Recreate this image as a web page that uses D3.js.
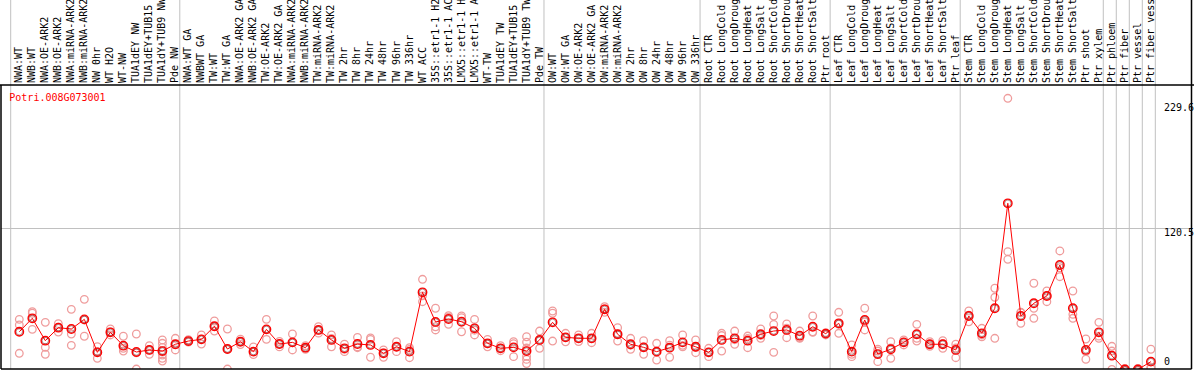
<!DOCTYPE html>
<html>
<head>
<meta charset="utf-8">
<script src="https://cdn.jsdelivr.net/npm/d3@7"></script>
<style>
  html, body { margin: 0; padding: 0; background: #fff; }
  svg { display: block; }
  text { font-family: "DejaVu Sans Mono", "Liberation Mono", monospace; font-size: 10px; }
</style>
</head>
<body>
<svg id="chart" width="1194" height="370"></svg>
<script>
const geneId = "Potri.008G073001";

const categories = [
  "NWA:WT", "NWB:WT", "NWA:OE-ARK2", "NWB:OE-ARK2", "NWA:miRNA-ARK2", "NWB:miRNA-ARK2",
  "NW 0hr", "WT H2O", "WT-NW", "TUA1dEY NW", "TUA1dEY+TUB15 NW", "TUA1dY+TUB9 NW", "Pde NW",
  "NWA:WT GA", "NWBWT GA", "TW:WT", "TW:WT GA", "NWA:OE-ARK2 GA", "NWB:OE-ARK2 GA",
  "TW:OE-ARK2", "TW:OE-ARK2 GA", "NWA:miRNA-ARK2", "NWB:miRNA-ARK2", "TW:miRNA-ARK2", "TW:miRNA-ARK2",
  "TW 2hr", "TW 8hr", "TW 24hr", "TW 48hr", "TW 96hr", "TW 336hr", "WT ACC",
  "35S::etr1-1 H2O", "35S::etr1-1 ACC", "LMX5::etr1-1 H2O", "LMX5::etr1-1 ACC",
  "WT-TW", "TUA1dEY TW", "TUA1dEY+TUB15 TW", "TUA1dY+TUB9 TW", "Pde TW",
  "OW:WT", "OW:WT GA", "OW:OE-ARK2", "OW:OE-ARK2 GA", "OW:miRNA-ARK2", "OW:miRNA-ARK2",
  "OW 2hr", "OW 8hr", "OW 24hr", "OW 48hr", "OW 96hr", "OW 336hr",
  "Root CTR", "Root LongCold", "Root LongDrought", "Root LongHeat", "Root LongSalt",
  "Root ShortCold", "Root ShortDrought", "Root ShortHeat", "Root ShortSalt", "Ptr root",
  "Leaf CTR", "Leaf LongCold", "Leaf LongDrought", "Leaf LongHeat", "Leaf LongSalt",
  "Leaf ShortCold", "Leaf ShortDrought", "Leaf ShortHeat", "Leaf ShortSalt", "Ptr leaf",
  "Stem CTR", "Stem LongCold", "Stem LongDrought", "Stem LongHeat", "Stem LongSalt",
  "Stem ShortCold", "Stem ShortDrought", "Stem ShortHeat", "Stem ShortSalt", "Ptr shoot",
  "Ptr xylem", "Ptr phloem", "Ptr fiber", "Ptr vessel", "Ptr fiber vessel"
];

const meanValues = [
  33.7, 45.0, 26.2, 37.1, 36.0, 44.1, 16.4, 33.2, 22.0, 16.7, 18.4, 17.5, 23.2,
  25.9, 27.3, 38.3, 19.2, 25.3, 17.0, 35.7, 23.4, 24.8, 20.3, 35.2, 26.8,
  19.8, 23.4, 22.6, 15.6, 21.1, 17.0, 66.8, 41.9, 44.4, 42.1, 36.6,
  24.0, 19.8, 20.6, 17.5, 26.8,
  41.6, 29.0, 28.2, 28.2, 52.5, 31.6, 23.2, 20.6, 17.0, 20.3, 24.8, 21.1,
  16.4, 26.8, 28.2, 26.2, 31.6, 34.3, 35.2, 30.4, 37.9, 32.1,
  40.8, 17.0, 43.6, 15.0, 19.0, 24.8, 31.6, 23.2, 23.2, 18.4,
  46.9, 32.4, 53.4, 141.5, 46.9, 57.6, 63.7, 89.7, 53.4, 18.4,
  33.2, 13.6, 2.0, 2.0, 8.6
];

const replicateValues = [
  [44.1, 39.4, 15.6], [50.5, 49.2, 35.7], [41.6, 20.6, 14.8], [40.5, 37.5, 33.5],
  [52.5, 31.8, 22.3], [60.9, 43.6, 29.9], [21.1, 17.0, 11.4], [36.0, 33.5, 31.0],
  [29.9, 19.8, 17.5], [31.8, 16.0, 2.4], [22.0, 18.4, 14.8],
  [26.8, 24.0, 20.6, 14.2, 11.4, 9.1], [28.2, 23.0, 18.4],
  [27.0, 25.0, 25.5], [31.0, 27.5, 23.4], [42.7, 38.0, 34.3], [36.0, 19.2, 2.4],
  [27.5, 25.5, 23.0], [21.0, 17.0, 14.5], [44.1, 35.7, 27.3], [25.5, 23.4, 21.0],
  [31.8, 24.5, 18.4], [22.0, 20.0, 19.0], [38.0, 35.0, 32.5], [31.0, 28.0, 21.1],
  [23.2, 19.0, 17.0], [29.0, 21.0, 20.3], [28.5, 27.3, 12.3], [18.4, 16.0, 12.3],
  [25.3, 21.0, 17.0], [20.3, 18.8, 11.9], [77.7, 63.8, 58.9], [53.4, 37.9, 35.2],
  [47.2, 46.0, 40.0], [45.5, 47.0, 33.7], [44.0, 35.0, 31.0],
  [27.3, 23.6, 21.1], [22.0, 19.8, 17.8], [25.3, 23.7, 12.8],
  [29.5, 25.0, 20.0, 13.0, 10.5, 7.0], [34.3, 26.3, 19.8],
  [51.1, 49.2, 25.9], [32.4, 29.0, 25.3], [31.0, 28.0, 25.5], [32.4, 28.0, 24.5],
  [54.7, 53.0, 50.0], [37.1, 31.8, 25.9], [28.2, 22.4, 19.0], [26.2, 21.0, 14.8],
  [24.0, 17.0, 10.0], [26.2, 22.4, 12.3], [31.0, 22.3, 21.1], [26.8, 20.4, 16.1],
  [19.8, 16.6, 12.8], [32.4, 30.5, 17.5], [34.3, 27.0, 23.2], [30.1, 28.0, 20.3],
  [36.0, 30.6, 28.2], [46.9, 39.9, 16.4], [40.2, 36.7, 28.7], [34.3, 28.7, 28.2],
  [46.9, 33.6, 33.2], [33.0, 32.0, 31.0],
  [50.0, 40.0, 32.4], [22.6, 14.8, 12.8], [53.4, 42.0, 35.2], [19.0, 17.5, 8.6],
  [25.3, 20.0, 11.4], [26.8, 25.0, 22.6], [39.9, 28.2, 25.9], [25.3, 23.2, 21.5],
  [26.2, 23.6, 19.8], [23.2, 20.0, 11.9],
  [51.1, 47.5, 42.1], [36.6, 31.0, 29.5], [70.2, 62.6, 28.2], [229.6, 100.9, 94.5],
  [50.0, 49.7, 40.8], [74.4, 53.4, 45.0], [67.9, 64.0, 58.9], [101.5, 87.4, 79.9],
  [67.9, 48.3, 45.0], [27.6, 17.0, 10.6],
  [41.6, 30.0, 28.2], [21.5, 17.5, 2.0], [3.0, 2.0, 1.0], [3.0, 2.0, 1.0], [19.0, 4.0, 3.0]
];

// group boundaries (index of first column of each group, plus the end)
const groupStarts = [0, 13, 41, 53, 63, 73, 84, 85, 86, 87, 88];
const yTicks = [0, 120.5, 229.6];

const W = 1194, H = 370;
const plot = { left: 1, top: 85, right: 1191.5, bottom: 369 };

const svg = d3.select("#chart");
svg.append("rect").attr("width", W).attr("height", H).attr("fill", "#fff");

const n = categories.length;
const x = d3.scaleBand().domain(d3.range(n)).range([10.7, 1155.3]).padding(0);
const cx = i => x(i) + x.bandwidth() / 2 + 2.1;
const gx = k => x.range()[0] + k * x.step();

const y = d3.scaleLinear().domain([0, 229.6]).range([371.9, 98.3]);

const defs = svg.append("defs");
defs.append("clipPath").attr("id", "plotclip").append("rect")
  .attr("x", plot.left).attr("y", plot.top)
  .attr("width", plot.right - plot.left).attr("height", plot.bottom - plot.top);

// vertical group gridlines
svg.append("g").selectAll("line").data(groupStarts).join("line")
  .attr("x1", d => gx(d)).attr("x2", d => gx(d))
  .attr("y1", 0).attr("y2", plot.bottom)
  .attr("stroke", "#c0c0c0").attr("stroke-width", 1);

// horizontal gridlines (interior ticks)
svg.append("g").selectAll("line").data(yTicks.filter(t => t > 0 && t < y.domain()[1])).join("line")
  .attr("x1", plot.left).attr("x2", plot.right)
  .attr("y1", d => Math.round(y(d)) + 0.5).attr("y2", d => Math.round(y(d)) + 0.5)
  .attr("stroke", "#c0c0c0").attr("stroke-width", 1);

// category labels
svg.append("g").selectAll("text").data(categories).join("text")
  .attr("transform", (d, i) => `translate(${cx(i) - 0.5},83) rotate(-90)`)
  .attr("dy", "0.35em")
  .attr("text-anchor", "start")
  .attr("fill", "#000")
  .text(d => d);

// y tick labels
svg.append("g").selectAll("text").data(yTicks).join("text")
  .attr("x", 1164)
  .attr("y", d => Math.min(Math.max(y(d), 103), 357))
  .attr("dy", "0.75em")
  .attr("fill", "#000")
  .text(d => d3.format("")(d));

const pg = svg.append("g").attr("clip-path", "url(#plotclip)");

// replicates
const reps = [];
replicateValues.forEach((arr, i) => arr.forEach(v => reps.push({ i, v })));
pg.append("g").selectAll("circle").data(reps).join("circle")
  .attr("cx", d => cx(d.i)).attr("cy", d => y(d.v)).attr("r", 3.8)
  .attr("fill", "none").attr("stroke", "#ef9c9c").attr("stroke-width", 1.3);

// mean line
pg.append("path").datum(meanValues)
  .attr("d", d3.line().x((d, i) => cx(i)).y(d => y(d)))
  .attr("fill", "none").attr("stroke", "#ff0000").attr("stroke-width", 1);

// mean points
const mg = pg.append("g");
mg.selectAll("circle.o").data(meanValues).join("circle").attr("class", "o")
  .attr("cx", (d, i) => cx(i)).attr("cy", d => y(d)).attr("r", 4.2)
  .attr("fill", "none").attr("stroke", "#ff0000").attr("stroke-width", 1.4);
mg.selectAll("circle.i").data(meanValues).join("circle").attr("class", "i")
  .attr("cx", (d, i) => cx(i)).attr("cy", d => y(d)).attr("r", 3.2)
  .attr("fill", "none").attr("stroke", "#500000").attr("stroke-width", 0.7).attr("stroke-opacity", 0.6);

// title
svg.append("text").attr("x", 9.3).attr("y", 101).attr("fill", "#ff0000").text(geneId);

// frame
const fr = svg.append("g").attr("stroke", "#000").attr("stroke-width", 1.5);
fr.append("line").attr("x1", 0).attr("x2", W).attr("y1", plot.top).attr("y2", plot.top);
fr.append("line").attr("x1", plot.left).attr("x2", plot.right).attr("y1", plot.bottom).attr("y2", plot.bottom);
fr.append("line").attr("x1", plot.left).attr("x2", plot.left).attr("y1", plot.top).attr("y2", plot.bottom);
fr.append("line").attr("x1", plot.right).attr("x2", plot.right).attr("y1", 0).attr("y2", plot.bottom);
</script>
</body>
</html>
